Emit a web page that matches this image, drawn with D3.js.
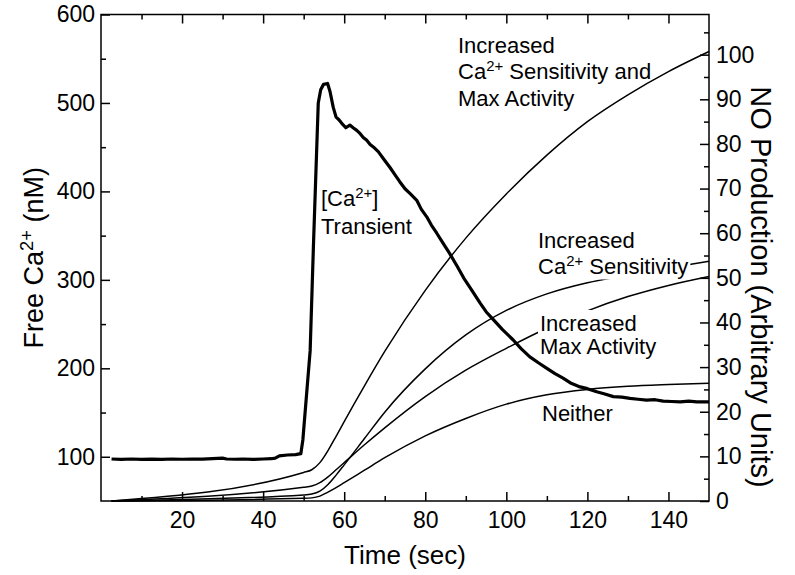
<!DOCTYPE html>
<html>
<head>
<meta charset="utf-8">
<script src="https://cdn.jsdelivr.net/npm/d3@7"></script>
<style>
  body { margin: 0; background: #fff; }
  svg { display: block; font-family: "Liberation Sans", Arial, sans-serif; }
  text { white-space: pre; }
</style>
</head>
<body>
<svg id="chart" width="795" height="575"></svg>
<script>
// [Ca2+] transient, left axis (nM)
const caTime = [2.6, 5, 7.5, 10, 12.5, 15, 17.5, 20, 22.5, 25, 27.5, 30, 31, 33, 35, 37.5, 40, 42,
  43, 44, 46, 48, 49.3, 49.8, 51.6, 52.4, 53.6, 54.2, 54.9, 55.9, 56.5, 57.3, 58, 58.7, 59.4,
  60.4, 61.4, 62.2, 63.1, 64, 64.7, 65.5, 66.4, 67.5, 68.4, 70, 71.3, 72.5, 73.7, 75, 76.4,
  77.9, 79, 80.4, 81.5, 82.8, 84.3, 86, 87.8, 89.5, 91.5, 93.5, 95, 96.8, 99, 101.7, 103.7,
  105.8, 108, 110, 112, 114, 116, 118.2, 120, 122.3, 124.3, 126.4, 128.5, 130.5, 132.5, 134.6,
  136.7, 138.7, 140.8, 142.9, 145, 147, 150];
const caConc = [97.5, 97, 97.5, 97, 97.3, 97, 97.5, 97.2, 97.5, 97.3, 97.8, 98.5, 97.5, 97.2, 97.5, 97, 97.5, 97.8,
  98.5, 101, 102, 102.5, 103.5, 119, 220, 337, 500, 515, 521, 522, 513, 495, 484, 481, 477,
  472, 475, 472, 469, 465, 461, 458, 453, 449, 445, 435, 427, 419, 411, 403, 397,
  390, 380, 371, 362, 353, 342, 330, 316, 302, 288, 274, 264, 255, 244, 232, 222,
  213, 206, 200, 194, 189, 183, 179, 177, 173.5, 171, 168, 167.5, 166, 165, 164,
  164.5, 163, 162.5, 162, 163, 162, 162];

// NO production, right axis (arbitrary units)
const noTime = [2.6, 50, 52, 54, 56, 58, 60, 65, 70, 80, 90, 100, 110, 120, 130, 140, 150];
const noBoth = [0, 6.4, 7.0, 8.6, 11.3, 14.5, 17.8, 25.8, 33.5, 47.2, 58.9, 68.8, 77.5, 85.0, 91.0, 96.2, 100.7];
const noCaSens = [0, 1.35, 1.55, 2.2, 3.7, 5.8, 8.1, 14, 19.9, 29.6, 37.2, 42.7, 46.4, 48.9, 50.6, 52.2, 53.7];
const noMaxAct = [0, 3.1, 3.35, 4.1, 5.4, 7.0, 8.6, 12.6, 16.4, 23.4, 29.3, 34.2, 38.7, 42.6, 45.8, 48.3, 50.3];
const noNeither = [0, 0.6, 0.7, 1.1, 2.0, 3.0, 4.1, 6.9, 9.7, 14.6, 18.5, 21.7, 23.8, 25.0, 25.7, 26.1, 26.4];

const timeTicks = [20, 40, 60, 80, 100, 120, 140];
const timeMinor = [10, 30, 50, 70, 90, 110, 130];
const caTicks = [100, 200, 300, 400, 500, 600];
const caMinor = [150, 250, 350, 450, 550];
const noTicks = [0, 10, 20, 30, 40, 50, 60, 70, 80, 90, 100];
const noMinor = [5, 15, 25, 35, 45, 55, 65, 75, 85, 95, 105];

const svg = d3.select('#chart');
const x = d3.scaleLinear().domain([0, 150]).range([101, 709]);
const yCa = d3.scaleLinear().domain([50, 600]).range([501, 14.5]);
const yNo = d3.scaleLinear().domain([0, 109]).range([501, 14.5]);
const tickFont = 23;

function styleAxis(g) {
  g.select('.domain').remove();
  g.selectAll('line').attr('stroke', '#000').attr('stroke-width', 1.5);
  g.selectAll('text').attr('font-size', tickFont).attr('fill', '#000')
    .attr('font-family', '"Liberation Sans", Arial, sans-serif');
}

// major + minor ticks, all pointing inward
const axes = [
  [d3.axisBottom(x).tickValues(timeTicks).tickSize(-9).tickPadding(11), `translate(0,${yCa.range()[0]})`],
  [d3.axisBottom(x).tickValues(timeMinor).tickSize(-5).tickFormat(''), `translate(0,${yCa.range()[0]})`],
  [d3.axisTop(x).tickValues(timeTicks).tickSize(-9).tickFormat(''), `translate(0,${yCa.range()[1]})`],
  [d3.axisTop(x).tickValues(timeMinor).tickSize(-5).tickFormat(''), `translate(0,${yCa.range()[1]})`],
  [d3.axisLeft(yCa).tickValues(caTicks).tickSize(-9).tickPadding(6), `translate(${x.range()[0]},0)`],
  [d3.axisLeft(yCa).tickValues(caMinor).tickSize(-5).tickFormat(''), `translate(${x.range()[0]},0)`],
  [d3.axisRight(yNo).tickValues(noTicks).tickSize(-9).tickPadding(7), `translate(${x.range()[1]},0)`],
  [d3.axisRight(yNo).tickValues(noMinor).tickSize(-5).tickFormat(''), `translate(${x.range()[1]},0)`],
];
axes.forEach(([axis, tr]) => {
  svg.append('g').attr('transform', tr).call(axis).call(styleAxis);
});

svg.append('rect')
  .attr('x', x.range()[0]).attr('y', yCa.range()[1])
  .attr('width', x.range()[1] - x.range()[0])
  .attr('height', yCa.range()[0] - yCa.range()[1])
  .attr('fill', 'none').attr('stroke', '#000').attr('stroke-width', 1.5);

// NO curves
const noLine = d3.line().x(d => x(d[0])).y(d => yNo(d[1])).curve(d3.curveMonotoneX);
[noBoth, noCaSens, noMaxAct, noNeither].forEach((series) => {
  svg.append('path')
    .datum(noTime.map((t, i) => [t, series[i]]))
    .attr('d', noLine)
    .attr('fill', 'none').attr('stroke', '#000').attr('stroke-width', 1.5);
});

// Ca transient
const caLine = d3.line().x(d => x(d[0])).y(d => yCa(d[1]));
svg.append('path')
  .datum(caTime.map((t, i) => [t, caConc[i]]))
  .attr('d', caLine)
  .attr('fill', 'none').attr('stroke', '#000').attr('stroke-width', 3.2)
  .attr('stroke-linejoin', 'round');

// text with ^superscript^ parts
function richText(sel, str, size) {
  const parts = str.split('^');
  parts.forEach((p, i) => {
    if (!p) return;
    const sup = i % 2 === 1;
    const prevSup = i > 0 && (i - 1) % 2 === 1;
    sel.append('tspan')
      .attr('font-size', sup ? size * 0.68 : size)
      .attr('dy', sup ? -size * 0.36 : (prevSup ? size * 0.36 : 0))
      .text(p);
  });
}

function label(lines, lx, baselines, opaque) {
  lines.forEach((ln, i) => {
    const g = svg.append('g');
    const t = g.append('text').attr('x', lx).attr('y', baselines[i]).attr('fill', '#000');
    richText(t, ln, 22);
    if (opaque) {
      const b = t.node().getBBox();
      g.insert('rect', 'text')
        .attr('x', b.x - 2).attr('y', b.y - 1)
        .attr('width', b.width + 4).attr('height', b.height + 2)
        .attr('fill', '#fff');
    }
  });
}

label(['Increased', 'Ca^2+^ Sensitivity and', 'Max Activity'], 458, [52.5, 79, 106], false);
label(['[Ca^2+^]', 'Transient'], 321, [206, 234], false);
label(['Increased', 'Ca^2+^ Sensitivity'], 538, [247.5, 273.5], true);
label(['Increased', 'Max Activity'], 540, [331, 354], true);
label(['Neither'], 542, [421], false);

// axis titles
const xt = svg.append('text').attr('x', (x.range()[0] + x.range()[1]) / 2).attr('y', 564)
  .attr('text-anchor', 'middle');
richText(xt, 'Time (sec)', 26);

const yt = svg.append('text')
  .attr('transform', `translate(43,${(yCa.range()[0] + yCa.range()[1]) / 2}) rotate(-90)`)
  .attr('text-anchor', 'middle');
richText(yt, 'Free Ca^2+^ (nM)', 27);

const rt = svg.append('text')
  .attr('transform', 'translate(751,287) rotate(90)')
  .attr('text-anchor', 'middle');
richText(rt, 'NO Production (Arbitrary Units)', 29);
</script>
</body>
</html>
